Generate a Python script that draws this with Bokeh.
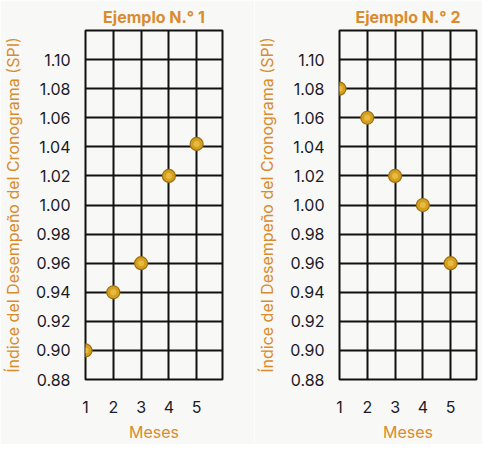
from bokeh.plotting import figure
from bokeh.layouts import row
from bokeh.models import Range1d, FixedTicker, CustomJSTickFormatter
from bokeh.embed import file_html
from bokeh.resources import INLINE

meses = [1, 2, 3, 4, 5]
spi_ej1 = [0.90, 0.94, 0.96, 1.02, 1.042]
spi_ej2 = [1.08, 1.06, 1.02, 1.00, 0.96]
y_ticks = [0.88, 0.90, 0.92, 0.94, 0.96, 0.98, 1.00, 1.02, 1.04, 1.06, 1.08, 1.10]
grid_y = [0.90, 0.92, 0.94, 0.96, 0.98, 1.00, 1.02, 1.04, 1.06, 1.08, 1.10]
titles = ["Ejemplo N.° 1", "Ejemplo N.° 2"]

ORANGE = "#D98C2E"
TEXT = "#1b1b28"
BG = "#F8F8F6"
FONT = "Inter"


def make(title, ys, width, left, right):
    p = figure(width=width, height=444, output_backend="svg", toolbar_location=None,
               x_range=Range1d(1, 5.93), y_range=Range1d(0.88, 1.12),
               min_border_left=left, min_border_right=right,
               min_border_top=27, min_border_bottom=58)
    p.title.text = title
    p.title.align = "center"
    p.title.text_color = ORANGE
    p.title.text_font = FONT
    p.title.text_font_size = "16px"
    p.title.text_font_style = "bold"
    p.title.standoff = 8
    p.background_fill_color = BG
    p.border_fill_color = BG
    p.outline_line_color = "#111111"
    p.outline_line_width = 2

    p.xaxis.ticker = FixedTicker(ticks=meses)
    p.yaxis.ticker = FixedTicker(ticks=y_ticks)
    p.xgrid.ticker = FixedTicker(ticks=meses)
    p.ygrid.ticker = FixedTicker(ticks=grid_y)
    for g in (p.xgrid, p.ygrid):
        g.grid_line_color = "#111111"
        g.grid_line_width = 2
        g.grid_line_alpha = 1.0

    for ax in (p.xaxis, p.yaxis):
        ax.axis_line_color = None
        ax.major_tick_line_color = None
        ax.minor_tick_line_color = None
        ax.major_label_text_font = FONT
        ax.major_label_text_font_size = "16px"
        ax.major_label_text_color = TEXT
        ax.axis_label_text_font = FONT
        ax.axis_label_text_font_size = "16px"
        ax.axis_label_text_font_style = "normal"
        ax.axis_label_text_color = ORANGE

    p.xaxis.axis_label = "Meses"
    p.xaxis.major_label_standoff = 15
    p.xaxis.axis_label_standoff = 6
    p.yaxis.axis_label = "Índice del Desempeño del Cronograma (SPI)"
    p.yaxis.major_label_standoff = 9
    p.yaxis.axis_label_standoff = 10
    p.yaxis.major_label_text_baseline = "alphabetic"
    p.yaxis.formatter = CustomJSTickFormatter(code="return tick.toFixed(2);")

    p.scatter(meses, ys, size=13, fill_color="#D4A020", line_color="#9C6E10",
              line_width=1.2)
    p.scatter(meses, ys, size=6, fill_color="#EBC04A", line_color=None,
              fill_alpha=0.8)
    return p


p1 = make(titles[0], spi_ej1, 254, 79, 32)
p2 = make(titles[1], spi_ej2, 228, 80, 6)
layout = row(p1, p2)

open("out.html", "w").write(file_html(layout, INLINE))
